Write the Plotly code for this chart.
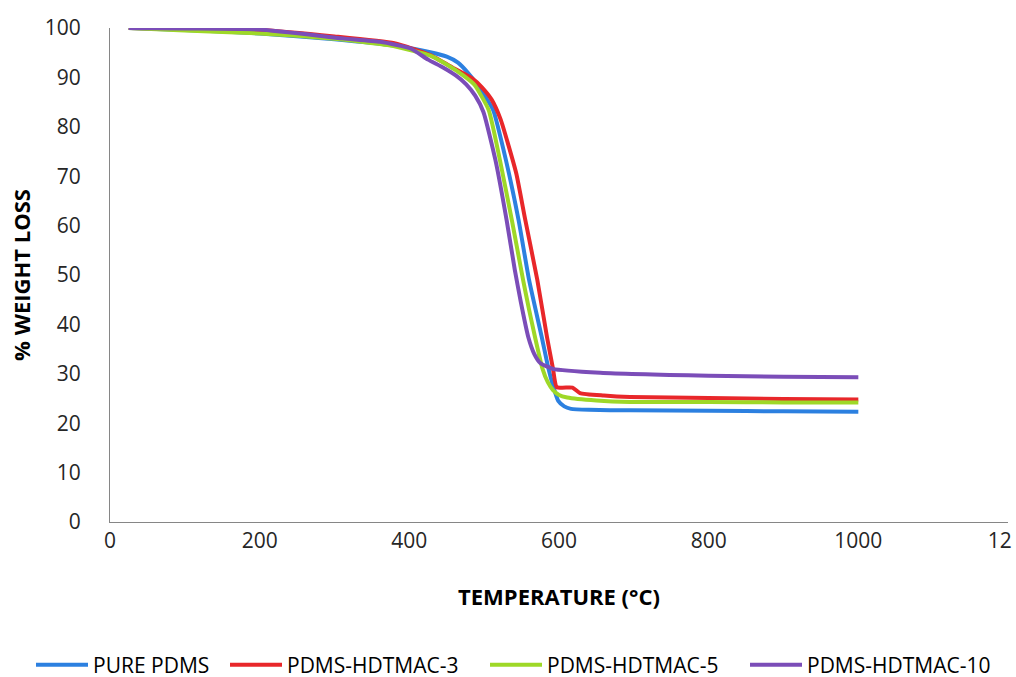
import plotly.graph_objects as go

# ---- data ----
pure_T = [25, 100, 200, 300, 380, 428, 450, 465, 478, 491, 502, 512, 529, 546, 560, 577, 586, 592, 599, 607, 616, 640, 695, 800, 900, 1000]
pure_W = [100, 99.6, 98.9, 97.7, 96.4, 95.1, 94.2, 93.0, 91.0, 88.5, 86.0, 83.4, 73.3, 61.1, 49.0, 37.4, 31.0, 27.6, 24.5, 23.4, 22.9, 22.7, 22.6, 22.5, 22.4, 22.3]

h3_T = [25, 100, 200, 300, 380, 428, 460, 484, 497, 510, 522, 532, 543, 555, 571, 584, 592, 597, 618, 628, 660, 695, 800, 900, 1000]
h3_W = [100, 99.8, 99.6, 98.3, 96.9, 94.5, 91.8, 89.8, 88.0, 85.5, 81.5, 76.5, 70.5, 61.1, 49.0, 37.4, 31.0, 27.3, 27.2, 26.1, 25.6, 25.3, 25.1, 24.9, 24.8]

h5_T = [25, 100, 200, 300, 380, 428, 450, 472, 487, 506, 521, 537, 552, 560, 568, 578, 585, 592, 600, 611, 650, 695, 800, 900, 1000]
h5_W = [100, 99.5, 98.9, 97.8, 96.3, 94.4, 92.6, 90.4, 88.5, 83.4, 73.3, 61.1, 49.0, 43.0, 37.4, 31.0, 28.3, 26.7, 25.7, 25.2, 24.6, 24.3, 24.3, 24.2, 24.2]

h10_T = [25, 100, 200, 311, 361, 401, 425, 445, 462, 476, 488, 499, 515, 530, 541, 549, 559, 567, 575, 592, 655, 800, 900, 1000]
h10_W = [100, 99.9, 99.7, 97.9, 97.2, 95.9, 93.6, 92.0, 90.4, 88.6, 86.3, 83.0, 73.3, 61.1, 51.0, 44.5, 37.4, 34.0, 32.2, 31.0, 30.2, 29.6, 29.4, 29.3]

series_names = ["PURE PDMS", "PDMS-HDTMAC-3", "PDMS-HDTMAC-5", "PDMS-HDTMAC-10"]
series_colors = ["#2C80E0", "#E8272A", "#9ED827", "#7B4DB8"]

x_tickvals = [0, 200, 400, 600, 800, 1000, 1200]
x_ticktext = ["0", "200", "400", "600", "800", "1000", "12\u00a0\u00a0\u00a0"]
y_tickvals = [0, 10, 20, 30, 40, 50, 60, 70, 80, 90, 100]

legend_ids = ["legend", "legend2", "legend3", "legend4"]
legend_left_px = [31, 225, 485, 745]

fig = go.Figure()
for (T, W), name, col, lid in zip([(pure_T, pure_W), (h3_T, h3_W), (h5_T, h5_W), (h10_T, h10_W)],
                                  series_names, series_colors, legend_ids):
    fig.add_trace(go.Scatter(x=T, y=W, mode="lines", name=name, legend=lid,
                             line=dict(color=col, width=4, shape="spline", smoothing=0.5)))

tickfont = dict(family="Open Sans", size=21, color="#262626")
layout_legends = {}
for lid, px in zip(legend_ids, legend_left_px):
    layout_legends[lid] = dict(orientation="h", xref="container", yref="container",
                               x=px / 1016, xanchor="left", y=(677 - 665) / 677, yanchor="middle",
                               itemwidth=52,
                               font=dict(family="Open Sans", size=21, color="black"),
                               bgcolor="rgba(0,0,0,0)")

fig.update_layout(
    width=1016, height=677,
    margin=dict(l=110, r=8, t=28, b=155, autoexpand=False),
    plot_bgcolor="white", paper_bgcolor="white",
    xaxis=dict(range=[0, 1200], tickvals=x_tickvals, ticktext=x_ticktext, tickangle=0,
               showgrid=False, zeroline=False, showline=True, linecolor="#868686", linewidth=1,
               ticks="", tickfont=tickfont, automargin=False, ticklabeloverflow="allow",
               title=dict(text="<b>TEMPERATURE (°C)</b>", font=dict(family="Open Sans", size=22, color="black"),
                          standoff=36)),
    yaxis=dict(range=[0, 100], tickvals=y_tickvals, automargin=False,
               showgrid=False, zeroline=False, showline=True, linecolor="#868686", linewidth=1,
               ticks="", tickfont=tickfont, ticklabelstandoff=24,
               title=dict(text="<b>% WEIGHT LOSS</b>", font=dict(family="Open Sans", size=22, color="black"),
                          standoff=8)),
    showlegend=True,
    **layout_legends,
)

fig.write_html("out.html")
